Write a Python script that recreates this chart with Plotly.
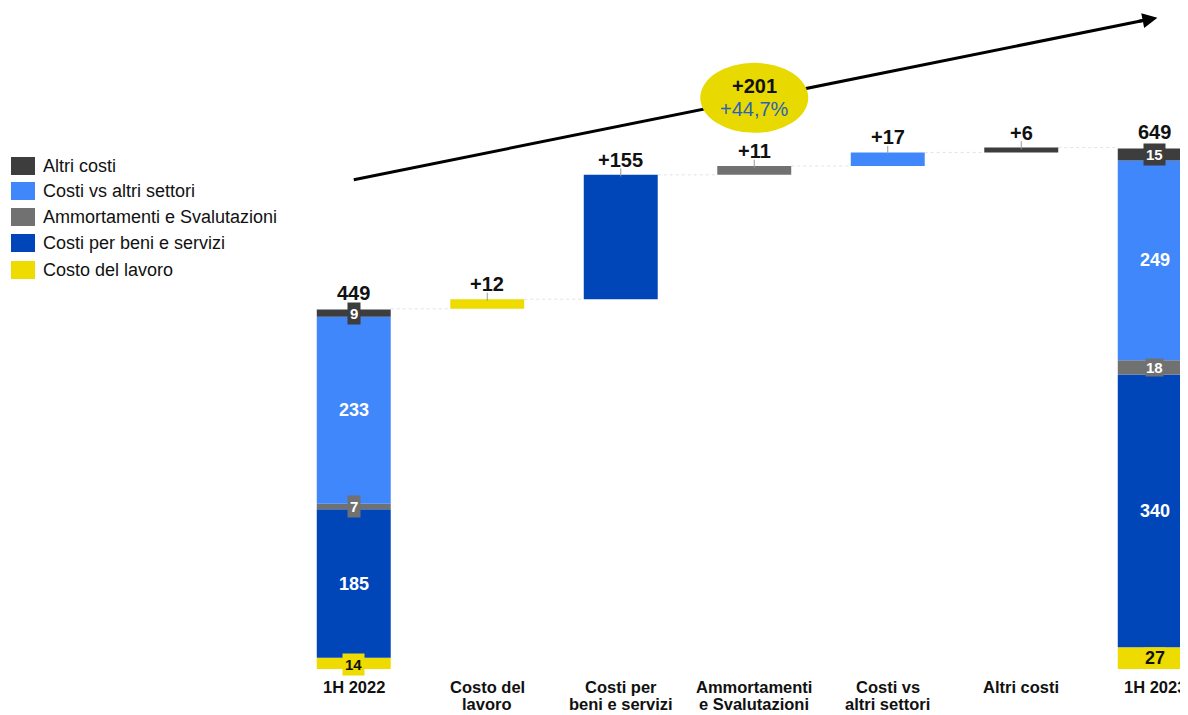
import plotly.graph_objects as go
import numpy as np

# data
categories = [["1H 2022"], ["Costo del", "lavoro"], ["Costi per", "beni e servizi"],
              ["Ammortamenti", "e Svalutazioni"], ["Costi vs", "altri settori"], ["Altri costi"], ["1H 2023"]]
components = ["Costo del lavoro", "Costi per beni e servizi", "Ammortamenti e Svalutazioni",
              "Costi vs altri settori", "Altri costi"]
values_2022 = [14, 185, 7, 233, 9]
values_2023 = [27, 340, 18, 249, 15]
deltas = [12, 155, 11, 17, 6]
total_2022 = 449
total_2023 = 649
delta_total = "+201"
delta_pct = "+44,7%"

colors = ["#eedc00", "#0046b9", "#717171", "#3f87fb", "#3d3d3d"]
label_colors = ["#111111", "white", "white", "white", "white"]

FONT = "Liberation Sans, Arial, sans-serif"
BAR_W = 0.554
# the page sits 8px in from the window corner
PLOT_LEFT = 279
PLOT_BOTTOM = 54
PLOT_H = 715 - PLOT_BOTTOM

base_2022 = np.concatenate([[0], np.cumsum(values_2022)[:-1]])
base_2023 = np.concatenate([[0], np.cumsum(values_2023)[:-1]])
running = total_2022 + np.concatenate([[0], np.cumsum(deltas)])  # 449, 461, ...
base_delta = running[:-1]

fig = go.Figure()
for i, name in enumerate(components):
    fig.add_trace(go.Bar(
        x=[0, i + 1, 6],
        y=[values_2022[i], deltas[i], values_2023[i]],
        base=[base_2022[i], base_delta[i], base_2023[i]],
        width=BAR_W,
        marker=dict(color=colors[i], line=dict(width=0)),
        name=name,
        showlegend=False,
    ))

annotations = []
shapes = []

# category labels under the axis (tight line spacing)
for i, lines in enumerate(categories):
    for j, line in enumerate(lines):
        annotations.append(dict(x=i, y=0, xref="x", yref="paper", text=f"<b>{line}</b>",
                                showarrow=False, yanchor="middle", yshift=-18 - 17 * j,
                                font=dict(family=FONT, size=16.5, color="#111111")))

# faint connectors between bars
for i in range(len(running)):
    shapes.append(dict(type="line", xref="x", yref="y",
                       x0=i + BAR_W / 2, x1=i + 1 - BAR_W / 2, y0=running[i], y1=running[i],
                       line=dict(color="#e2e2e2", width=1, dash="dot"), layer="below"))

# segment labels inside the stacked bars
for xpos, vals, bases in [(0, values_2022, base_2022), (6, values_2023, base_2023)]:
    for i, v in enumerate(vals):
        if v < 20:
            size, pad = 15, 2
        else:
            size, pad = 18, 0
        annotations.append(dict(
            x=xpos, y=bases[i] + v / 2, xref="x", yref="y", text=f"<b>{v}</b>",
            showarrow=False, font=dict(family=FONT, size=size, color=label_colors[i]),
            bgcolor=colors[i], borderpad=pad if v != 18 else 0, yshift=-1 if v == 14 else 0,
        ))

# totals
for xpos, tot in [(0, total_2022), (6, total_2023)]:
    annotations.append(dict(x=xpos, y=tot, xref="x", yref="y", text=f"<b>{tot}</b>",
                            showarrow=False, yanchor="bottom", yshift=3,
                            font=dict(family=FONT, size=20, color="#111111")))

# delta labels
for i, d in enumerate(deltas):
    annotations.append(dict(x=i + 1, y=base_delta[i] + d, xref="x", yref="y", text=f"<b>+{d}</b>",
                            showarrow=False, yanchor="bottom", yshift=2,
                            font=dict(family=FONT, size=20, color="#111111")))
    shapes.append(dict(type="line", xref="x", yref="y", x0=i + 1, x1=i + 1,
                       y0=base_delta[i] + d - 2, y1=base_delta[i] + d + 8,
                       line=dict(color="#999999", width=1)))

# trend arrow (line below the ellipse, head as annotation)
shapes.append(dict(type="line", xref="x", yref="y", x0=0.0, y0=610, x1=5.96, y1=810,
                   line=dict(color="black", width=3)))
annotations.append(dict(x=6.02, y=812, xref="x", yref="y", ax=-20, ay=4,
                        showarrow=True, arrowhead=2, arrowsize=1, arrowwidth=3, arrowcolor="black", text=""))

# ellipse with total change
shapes.append(dict(type="circle", xref="x", yref="y", xsizemode="pixel", ysizemode="pixel",
                   xanchor=3, yanchor=712, x0=-54, x1=54, y0=-35, y1=35,
                   fillcolor="#e8d900", line=dict(width=0)))
annotations.append(dict(x=3, y=712, xref="x", yref="y", text=f"<b>{delta_total}</b>", showarrow=False,
                        yshift=12, font=dict(family=FONT, size=20, color="#111111")))
annotations.append(dict(x=3, y=712, xref="x", yref="y", text=delta_pct, showarrow=False,
                        yshift=-11, font=dict(family=FONT, size=20, color="#2a62b8")))

# custom legend (top to bottom), rows in window pixels
legend_rows = [166, 191, 217, 243, 270]
for row, idx in zip(legend_rows, [4, 3, 2, 1, 0]):
    yp = (PLOT_H + 8 - row) / PLOT_H
    shapes.append(dict(type="rect", xref="paper", yref="paper", xsizemode="pixel", ysizemode="pixel",
                       xanchor=0, yanchor=yp, x0=11 - 287, x1=35 - 287, y0=-9, y1=9,
                       fillcolor=colors[idx], line=dict(width=0)))
    annotations.append(dict(x=0, y=yp, xref="paper", yref="paper", xshift=41 - 287,
                            xanchor="left", yanchor="middle", showarrow=False, text=components[idx],
                            font=dict(family=FONT, size=18, color="#111111")))

fig.update_layout(
    width=1188, height=715,
    margin=dict(l=PLOT_LEFT, r=0, t=0, b=PLOT_BOTTOM),
    barmode="overlay",
    plot_bgcolor="white", paper_bgcolor="white",
    xaxis=dict(range=[-0.5, 6.309], tickvals=list(range(7)), showticklabels=False,
               showgrid=False, zeroline=False, showline=False, ticks=""),
    yaxis=dict(range=[0, 824], visible=False, showgrid=False),
    shapes=shapes,
    annotations=annotations,
)

fig.write_html("out.html")
